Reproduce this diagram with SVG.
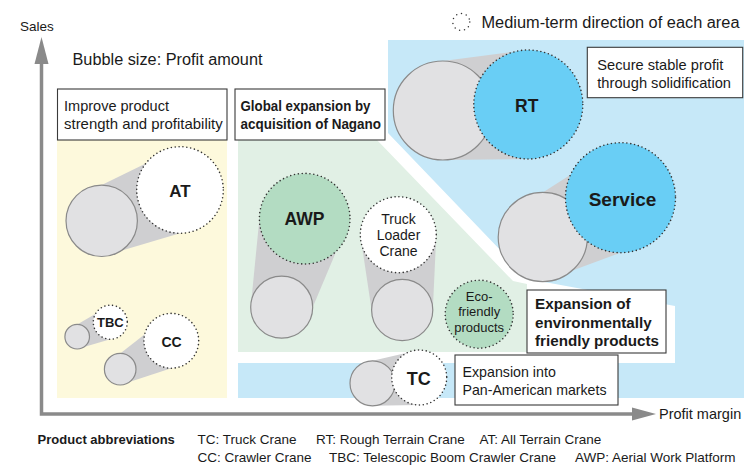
<svg xmlns="http://www.w3.org/2000/svg" width="744" height="469" viewBox="0 0 744 469">
  <style>
    text { font-family: "Liberation Sans", Arial, sans-serif; fill: #1a1a1a; }
    .b { font-weight: bold; }
    .mid { text-anchor: middle; }
    .box { fill: #ffffff; stroke: #3a3a3a; stroke-width: 1.1; }
    .now { fill: #e1e1e3; stroke: #8a8a8a; stroke-width: 1.2; }
    .goal { stroke: #333333; stroke-width: 1.6; stroke-dasharray: 0 3.9; stroke-linecap: round; }
    .white { fill: #ffffff; }
    .cyan { fill: #69cef5; }
    .mint { fill: #b3dcc2; }
    .cone { fill: #cfcfd1; }
    .axis { fill: none; stroke: #8a8a8a; stroke-width: 3.5; }
    .head { fill: #8a8a8a; }
    .abbr { font-size: 13.5px; }
  </style>

  <!-- strategy areas -->
  <g id="areas">
    <rect x="57" y="89" width="170" height="309" fill="#fdf9dc"/>
    <polygon points="238,89 377,89 377,140 513,281 527,284 527,352 238,352" fill="#e1f0e5"/>
    <polygon points="388,40 744,40 744,398 238,398 238,363 675,363 675,306 528,279 388,133" fill="#c6e8f8"/>
  </g>

  <!-- axes -->
  <g id="axes">
    <path class="axis" d="M41.5,60 V414 H636"/>
    <polygon class="head" points="41.5,37 34.5,64 48.5,64"/>
    <polygon class="head" points="656,414 632,407.5 632,420.5"/>
    <text x="20" y="31" font-size="13.5">Sales</text>
    <text x="659" y="418.5" font-size="14.5">Profit margin</text>
  </g>

  <text x="72.5" y="65" font-size="16" textLength="190" lengthAdjust="spacingAndGlyphs">Bubble size: Profit amount</text>

  <!-- legend for the dotted outline -->
  <g id="legend-direction">
    <circle cx="461.3" cy="22" r="8.5" fill="none" stroke="#333" stroke-width="1.5" stroke-dasharray="0 5" stroke-linecap="round"/>
    <text x="481.5" y="27.5" font-size="16" textLength="258" lengthAdjust="spacingAndGlyphs">Medium-term direction of each area</text>
  </g>

  <!-- cones from current position to medium-term position -->
  <g id="connectors">
    <polygon class="cone" points="101.7,185.1 180,146.7 180,233.3 101.7,256.5"/>
    <polygon class="cone" points="77.2,324.4 110.3,305.2 110.3,339.2 77.2,349"/>
    <polygon class="cone" points="120.2,353.4 171.3,313.4 171.3,368.2 120.2,385"/>
    <polygon class="cone" points="250.7,307.2 259.4,218.7 350,218.7 312.7,307.2"/>
    <polygon class="cone" points="371.6,310 360.3,234.7 436.3,234.7 432.8,310"/>
    <polygon class="cone" points="442.8,61 528.3,50 528.3,159 442.8,160"/>
    <polygon class="cone" points="542.8,192.4 620.5,142.7 620.5,252.7 542.8,281.6"/>
    <polygon class="cone" points="372.5,360.8 419.2,350 419.2,405 372.5,405.8"/>
  </g>

  <!-- products -->
  <g id="node-at">
    <circle class="now" cx="101.7" cy="220.8" r="35.7"/>
    <circle class="goal white" cx="180" cy="190" r="43.3"/>
    <text class="b mid" x="180" y="197" font-size="17">AT</text>
  </g>
  <g id="node-tbc">
    <circle class="now" cx="77.2" cy="336.7" r="12.3"/>
    <circle class="goal white" cx="110.3" cy="322.2" r="17"/>
    <text class="b mid" x="110.3" y="327.3" font-size="13">TBC</text>
  </g>
  <g id="node-cc">
    <circle class="now" cx="120.2" cy="369.2" r="15.8"/>
    <circle class="goal white" cx="171.3" cy="340.8" r="27.4"/>
    <text class="b mid" x="171.5" y="346.5" font-size="14">CC</text>
  </g>
  <g id="node-awp">
    <circle class="now" cx="281.7" cy="307.2" r="31"/>
    <circle class="goal mint" cx="304.7" cy="218.7" r="45.3"/>
    <text class="b mid" x="304.5" y="224.5" font-size="17.5">AWP</text>
  </g>
  <g id="node-truck-loader-crane">
    <circle class="now" cx="402.2" cy="310" r="30.6"/>
    <circle class="goal white" cx="398.3" cy="234.7" r="38"/>
    <text class="mid" x="398.5" y="223.5" font-size="14">Truck</text>
    <text class="mid" x="398.5" y="240" font-size="14">Loader</text>
    <text class="mid" x="398.5" y="255.5" font-size="14">Crane</text>
  </g>
  <g id="node-eco">
    <circle class="goal mint" cx="479.2" cy="314.2" r="34"/>
    <text class="mid" x="479.2" y="300.7" font-size="13">Eco-</text>
    <text class="mid" x="479.2" y="316" font-size="13">friendly</text>
    <text class="mid" x="479.2" y="331.7" font-size="13">products</text>
  </g>
  <g id="node-rt">
    <circle class="now" cx="442.8" cy="110.5" r="49.5"/>
    <circle class="goal cyan" cx="528.3" cy="104.5" r="54.5"/>
    <text class="b mid" x="526.7" y="112" font-size="17.5">RT</text>
  </g>
  <g id="node-service">
    <circle class="now" cx="542.8" cy="237" r="44.6"/>
    <circle class="goal cyan" cx="620.5" cy="197.7" r="55"/>
    <text class="b mid" x="622.5" y="205.5" font-size="19">Service</text>
  </g>
  <g id="node-tc">
    <circle class="now" cx="372.5" cy="383.3" r="22.5"/>
    <circle class="goal white" cx="419.2" cy="377.5" r="27.5"/>
    <text class="b mid" x="418.8" y="384.5" font-size="18">TC</text>
  </g>

  <!-- area captions -->
  <g id="box-improve">
    <rect class="box" x="57.5" y="89" width="169.5" height="51"/>
    <text x="64" y="111" font-size="15" textLength="105" lengthAdjust="spacingAndGlyphs">Improve product</text>
    <text x="64" y="128.5" font-size="15" textLength="158.7" lengthAdjust="spacingAndGlyphs">strength and profitability</text>
  </g>
  <g id="box-global">
    <rect class="box" x="235" y="89" width="150" height="51"/>
    <text class="b" x="240.5" y="111" font-size="14" textLength="130" lengthAdjust="spacingAndGlyphs">Global expansion by</text>
    <text class="b" x="240.5" y="128.5" font-size="14" textLength="140.5" lengthAdjust="spacingAndGlyphs">acquisition of Nagano</text>
  </g>
  <g id="box-secure">
    <rect class="box" x="587.3" y="47.3" width="155.4" height="50.4"/>
    <text x="597.3" y="70" font-size="14.5" textLength="126" lengthAdjust="spacingAndGlyphs">Secure stable profit</text>
    <text x="597.3" y="87.5" font-size="14.5" textLength="133.7" lengthAdjust="spacingAndGlyphs">through solidification</text>
  </g>
  <g id="box-eco">
    <rect class="box" x="527" y="290" width="139" height="63" stroke="#222"/>
    <text class="b" x="535" y="309" font-size="15" textLength="95.7" lengthAdjust="spacingAndGlyphs">Expansion of</text>
    <text class="b" x="535" y="327.5" font-size="15" textLength="116.7" lengthAdjust="spacingAndGlyphs">environmentally</text>
    <text class="b" x="535" y="346" font-size="15" textLength="124" lengthAdjust="spacingAndGlyphs">friendly products</text>
  </g>
  <g id="box-panam">
    <rect class="box" x="455" y="355" width="163" height="50"/>
    <text x="462.5" y="376.7" font-size="14.5" textLength="93.3" lengthAdjust="spacingAndGlyphs">Expansion into</text>
    <text x="462.5" y="395" font-size="14.5" textLength="144" lengthAdjust="spacingAndGlyphs">Pan-American markets</text>
  </g>

  <!-- abbreviations -->
  <g id="abbreviations">
    <text class="b" x="37.6" y="444" font-size="13">Product abbreviations</text>
    <text class="abbr" x="197.6" y="444">TC: Truck Crane</text>
    <text class="abbr" x="316" y="444">RT: Rough Terrain Crane</text>
    <text class="abbr" x="479.5" y="444">AT: All Terrain Crane</text>
    <text class="abbr" x="197.6" y="461.5">CC: Crawler Crane</text>
    <text class="abbr" x="329" y="461.5">TBC: Telescopic Boom Crawler Crane</text>
    <text class="abbr" x="575" y="461.5">AWP: Aerial Work Platform</text>
  </g>
</svg>
